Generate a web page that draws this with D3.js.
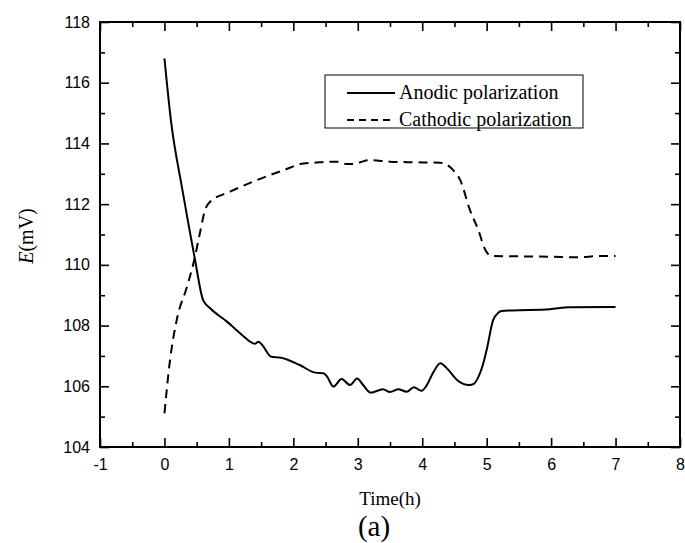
<!DOCTYPE html>
<html>
<head>
  <meta charset="utf-8" />
  <title>E vs time (a)</title>
  <style type="text/css">
    body { margin: 0; background: #fff; }
    .tick text { font-family: 'Liberation Sans', Arial, sans-serif; font-size: 16px; fill: #000; }
    .lbl { font-family: 'Liberation Serif', 'Times New Roman', serif; fill: #000; }
  </style>
</head>
<body>
  <div id="graph"></div>
  <script src="https://cdn.jsdelivr.net/npm/d3@7"></script>
  <script>
// values
var anodicTime = [0, 0.10, 0.27, 0.38, 0.475, 0.60, 0.71, 0.97, 1.20, 1.33, 1.40, 1.46, 1.52, 1.66, 1.79, 2.10, 2.34, 2.47, 2.53, 2.62, 2.75, 2.88, 2.99, 3.08, 3.20, 3.39, 3.50, 3.63, 3.76, 3.87, 3.99, 4.06, 4.17, 4.28, 4.40, 4.54, 4.73, 4.80, 4.87, 4.94, 5.00, 5.10, 5.18, 5.23, 5.40, 5.98, 6.29, 7.0];
var anodicE    = [116.80, 114.77, 112.57, 111.26, 110.16, 108.84, 108.57, 108.13, 107.70, 107.47, 107.40, 107.47, 107.35, 106.97, 106.95, 106.70, 106.45, 106.43, 106.30, 105.99, 106.24, 106.04, 106.26, 106.05, 105.79, 105.90, 105.81, 105.90, 105.82, 105.97, 105.85, 106.00, 106.45, 106.76, 106.55, 106.21, 106.04, 106.08, 106.30, 106.70, 107.20, 108.18, 108.42, 108.48, 108.50, 108.54, 108.60, 108.61];

var cathodicTime = [0, 0.087, 0.19, 0.35, 0.45, 0.55, 0.63, 0.71, 1.02, 1.43, 1.85, 2.16, 2.31, 2.57, 2.70, 2.82, 2.90, 3.04, 3.16, 3.50, 3.86, 4.28, 4.38, 4.48, 4.59, 4.74, 4.87, 4.98, 5.08, 5.98, 6.45, 6.71, 7.0];
var cathodicE    = [105.11, 106.87, 108.18, 109.28, 110.05, 111.04, 111.81, 112.08, 112.41, 112.79, 113.12, 113.34, 113.36, 113.40, 113.40, 113.32, 113.32, 113.38, 113.45, 113.40, 113.38, 113.36, 113.30, 113.12, 112.79, 111.81, 111.15, 110.49, 110.29, 110.27, 110.25, 110.29, 110.29];

var xMajor = [-1, 0, 1, 2, 3, 4, 5, 6, 7, 8];
var xMinor = [-0.5, 0.5, 1.5, 2.5, 3.5, 4.5, 5.5, 6.5, 7.5];
var yMajor = [104, 106, 108, 110, 112, 114, 116, 118];
var yMinor = [105, 107, 109, 111, 113, 115, 117];

var seriesNames = ["Anodic polarization", "Cathodic polarization"];

var margin = {top: 22, left: 100},
    width = 580,
    height = 425;

var svg = d3.select("#graph").append("svg")
    .attr("width", 685)
    .attr("height", 543);

var g = svg.append("g")
    .attr("transform", "translate(" + margin.left + "," + margin.top + ")");

var x = d3.scaleLinear().domain([-1, 8]).range([0, width]);
var y = d3.scaleLinear().domain([104, 118]).range([height, 0]);

// axes, ticks pointing inward on all four sides
function addAxis(axis, tf, major, minor, pad) {
  var a = g.append("g").attr("transform", tf)
      .call(axis.tickValues(major).tickSize(-9).tickPadding(pad)
        .tickFormat(function(d) { return String(d); }));
  a.select(".domain").remove();
  a.selectAll("line").attr("stroke-width", 1.6);
  var m = g.append("g").attr("transform", tf)
      .call(axis.tickValues(minor).tickSize(-5).tickFormat(""));
  m.select(".domain").remove();
  m.selectAll("line").attr("stroke-width", 1.6);
  return a;
}
addAxis(d3.axisBottom(x), "translate(0," + height + ")", xMajor, xMinor, 12);
addAxis(d3.axisLeft(y), null, yMajor, yMinor, 10);
addAxis(d3.axisTop(x), null, xMajor, xMinor, 0).selectAll("text").remove();
addAxis(d3.axisRight(y), "translate(" + width + ",0)", yMajor, yMinor, 0).selectAll("text").remove();

g.append("rect")
    .attr("width", width).attr("height", height)
    .attr("fill", "none").attr("stroke", "#000").attr("stroke-width", 2);

var line = d3.line()
    .x(function(d) { return x(d[0]); })
    .y(function(d) { return y(d[1]); })
    .curve(d3.curveMonotoneX);

var anodic = d3.zip(anodicTime, anodicE);
var cathodic = d3.zip(cathodicTime, cathodicE);

g.append("path").datum(anodic)
    .attr("d", line).attr("fill", "none")
    .attr("stroke", "#000").attr("stroke-width", 2);

g.append("path").datum(cathodic)
    .attr("d", line).attr("fill", "none")
    .attr("stroke", "#000").attr("stroke-width", 2)
    .attr("stroke-dasharray", "9,6");

// legend
var lg = svg.append("g").attr("transform", "translate(325,75)");
lg.append("rect").attr("width", 258).attr("height", 53)
    .attr("fill", "#fff").attr("stroke", "#000").attr("stroke-width", 1);
seriesNames.forEach(function(name, i) {
  var yy = 18 + i * 27;
  lg.append("line").attr("x1", 22).attr("x2", 70).attr("y1", yy).attr("y2", yy)
      .attr("stroke", "#000").attr("stroke-width", 2)
      .attr("stroke-dasharray", i ? "7,5" : null);
  lg.append("text").attr("class", "lbl").attr("x", 74).attr("y", yy + 6)
      .style("font-size", "20px").text(name);
});

// axis titles
svg.append("text").attr("class", "lbl")
    .attr("x", 390).attr("y", 505).attr("text-anchor", "middle")
    .style("font-size", "19px").text("Time(h)");

svg.append("text").attr("class", "lbl")
    .attr("x", 374).attr("y", 536).attr("text-anchor", "middle")
    .style("font-size", "29px").text("(a)");

var yt = svg.append("text").attr("class", "lbl")
    .attr("transform", "translate(33,236) rotate(-90)")
    .attr("text-anchor", "middle")
    .style("font-size", "20px");
yt.append("tspan").style("font-style", "italic").text("E");
yt.append("tspan").text("(mV)");
  </script>
</body>
</html>
